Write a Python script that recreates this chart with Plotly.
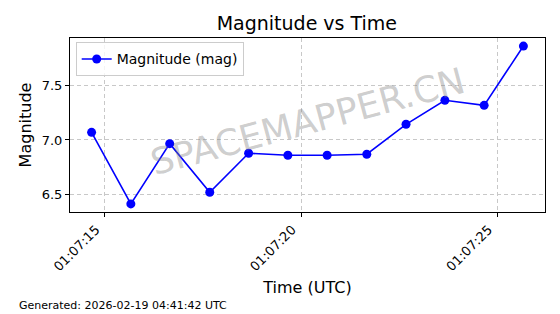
import plotly.graph_objects as go

times = ["2026-02-19 01:07:14.66", "2026-02-19 01:07:15.66", "2026-02-19 01:07:16.65",
         "2026-02-19 01:07:17.67", "2026-02-19 01:07:18.66", "2026-02-19 01:07:19.66",
         "2026-02-19 01:07:20.66", "2026-02-19 01:07:21.67", "2026-02-19 01:07:22.67",
         "2026-02-19 01:07:23.66", "2026-02-19 01:07:24.66", "2026-02-19 01:07:25.66"]
magnitude = [7.07, 6.413, 6.966, 6.52, 6.878, 6.86, 6.86, 6.869, 7.144, 7.364, 7.318, 7.862]
tick_vals = ["2026-02-19 01:07:15", "2026-02-19 01:07:20", "2026-02-19 01:07:25"]
tick_text = ["01:07:15", "01:07:20", "01:07:25"]
y_ticks = [6.5, 7.0, 7.5]

FONT = "DejaVu Sans"

fig = go.Figure()
fig.add_trace(go.Scatter(
    x=times, y=magnitude, mode="lines+markers", name="Magnitude (mag)",
    line=dict(color="#0000ff", width=1.6),
    marker=dict(color="#0000ff", size=9),
))

axis_common = dict(
    showline=True, mirror=True, linecolor="black", linewidth=1,
    ticks="outside", ticklen=4, tickcolor="black",
    showgrid=True, gridcolor="#c8c8c8", griddash="4px,3px", gridwidth=0.8,
    zeroline=False,
    tickfont=dict(family=FONT, size=13, color="black"),
)

fig.update_layout(
    width=560, height=314,
    margin=dict(l=70, r=15, t=38, b=102),
    paper_bgcolor="white", plot_bgcolor="white",
    font=dict(family=FONT, color="black"),
    title=dict(text="Magnitude vs Time", x=0.548, xanchor="center", y=0.925, yanchor="middle",
               font=dict(family=FONT, size=19, color="black")),
    showlegend=True,
    legend=dict(x=0.012, y=0.975, xanchor="left", yanchor="top",
                bgcolor="rgba(255,255,255,0.8)", bordercolor="#cccccc", borderwidth=1,
                font=dict(family=FONT, size=14, color="black")),
    xaxis=dict(axis_common, type="date",
               range=["2026-02-19 01:07:14.11", "2026-02-19 01:07:26.21"],
               tickvals=tick_vals, ticktext=tick_text, tickangle=-45,
               ticklabelshift=-9,
               title=dict(text="Time (UTC)", font=dict(family=FONT, size=16), standoff=8)),
    yaxis=dict(axis_common, range=[6.339, 7.936], tickvals=y_ticks,
               ticktext=["6.5", "7.0", "7.5"],
               title=dict(text="Magnitude", font=dict(family=FONT, size=16), standoff=6)),
)

fig.add_annotation(
    text="SPACEMAPPER.CN", xref="paper", yref="paper", x=0.5, y=0.52,
    showarrow=False, textangle=-15,
    font=dict(family=FONT, size=36, color="rgba(128,128,128,0.4)"),
)
fig.add_annotation(
    text="Generated: 2026-02-19 04:41:42 UTC", xref="paper", yref="paper",
    x=(17 - 70) / 475, y=(212 - 305) / 174, xanchor="left", yanchor="middle", showarrow=False,
    font=dict(family=FONT, size=11, color="black"),
)

fig.write_html("out.html")
